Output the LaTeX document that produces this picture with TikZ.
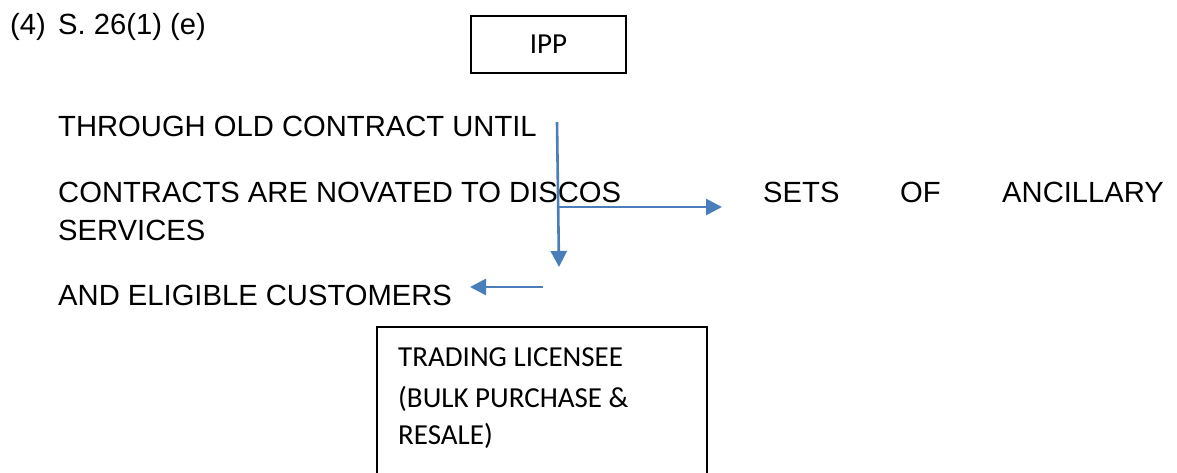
\documentclass[tikz,border=0pt]{standalone}
\usepackage{fontspec}
\setmainfont{Liberation Sans}
\newfontfamily\calibri{Carlito}
\usetikzlibrary{arrows.meta}
\definecolor{flowblue}{RGB}{74,126,187}
\tikzset{
  body/.style={anchor=base west, inner sep=0pt, font=\fontsize{29.2}{35}\selectfont},
  boxtext/.style={anchor=base west, inner sep=0pt, font=\calibri\fontsize{29}{35}\selectfont},
  frame/.style={draw=black, line width=1.4pt},
  flow/.style={draw=flowblue, line width=2.6pt, -{Triangle[length=16pt,width=16pt]}}
}
\begin{document}
\begin{tikzpicture}[x=1pt, y=-1pt]
  \useasboundingbox (0,0) rectangle (1177,473);

  % heading
  \node[body] (num) at (10,35) {(4)};
  \node[body] (sec) at (58,35) {S. 26(1) (e)};

  % IPP box
  \node[frame, minimum width=155pt, minimum height=57pt, inner sep=0pt,
        font=\calibri\fontsize{29}{35}\selectfont] (ipp) at (548.5,44.5) {IPP};

  % body text
  \node[body] (l1) at (58,137) {THROUGH OLD CONTRACT UNTIL};
  \node[body] (l2) at (58,202) {CONTRACTS ARE NOVATED TO DISCOS};
  \node[body] (sets) at (763,202) {SETS};
  \node[body] (of) at (900,202) {OF};
  \node[body] (anc) at (1002,202) {ANCILLARY};
  \node[body] (l3) at (58,240) {SERVICES};
  \node[body] (l4) at (58,305) {AND ELIGIBLE CUSTOMERS};

  % trading licensee box (runs past the bottom edge)
  \draw[frame] (377,490) |- (707,327) -- (707,490);
  \node[boxtext] (t1) at (398,366) {TRADING LICENSEE};
  \node[boxtext] (t2) at (398,407) {(BULK PURCHASE \&};
  \node[boxtext] (t3) at (398,444) {RESALE)};

  % connectors
  \coordinate (vtop) at (557,122);
  \coordinate (vend) at (559,267);
  \coordinate (hstart) at (558,207);
  \coordinate (hend) at (722,207);
  \coordinate (lstart) at (543,287);
  \coordinate (lend) at (470,287);
  \draw[flow] (vtop) -- (vend);
  \draw[flow] (hstart) -- (hend);
  \draw[flow] (lstart) -- (lend);
\end{tikzpicture}
\end{document}
